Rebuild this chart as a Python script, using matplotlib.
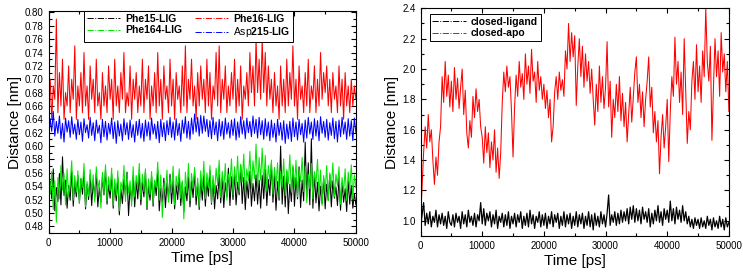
import numpy as np
import matplotlib
matplotlib.use("Agg")
import matplotlib.pyplot as plt
from matplotlib.lines import Line2D
from matplotlib.ticker import MultipleLocator

plt.rcParams['font.family'] = ['Liberation Sans', 'DejaVu Sans']
plt.rcParams['mathtext.fontset'] = 'custom'
plt.rcParams['mathtext.rm'] = 'Liberation Sans'
plt.rcParams['mathtext.bf'] = 'Liberation Sans:bold'

# time axis, one frame every 250 ps
time_ps = np.arange(0, 50001, 250)

# ---- left panel: residue-ligand distances [nm] ----
phe15_lig = [
    0.508, 0.547, 0.521, 0.566, 0.503, 0.538, 0.517, 0.559, 0.512, 0.584, 0.526, 0.549, 0.507, 0.541, 0.519, 0.563, 0.510, 0.545, 0.524, 0.556,
    0.515, 0.551, 0.528, 0.562, 0.506, 0.543, 0.520, 0.557, 0.511, 0.548, 0.523, 0.560, 0.509, 0.538, 0.516, 0.554, 0.527, 0.565, 0.513, 0.542,
    0.522, 0.558, 0.507, 0.544, 0.518, 0.553, 0.497, 0.536, 0.514, 0.550, 0.525, 0.561, 0.496, 0.539, 0.517, 0.556, 0.509, 0.547, 0.521, 0.559,
    0.512, 0.546, 0.524, 0.562, 0.505, 0.541, 0.519, 0.555, 0.510, 0.548, 0.526, 0.564, 0.503, 0.537, 0.516, 0.552, 0.508, 0.545, 0.522, 0.558,
    0.514, 0.549, 0.506, 0.542, 0.520, 0.557, 0.511, 0.546, 0.502, 0.539, 0.518, 0.554, 0.509, 0.548, 0.523, 0.561, 0.512, 0.544, 0.505, 0.551,
    0.519, 0.556, 0.510, 0.547, 0.525, 0.563, 0.513, 0.549, 0.506, 0.541, 0.521, 0.558, 0.515, 0.552, 0.508, 0.545, 0.524, 0.567, 0.511, 0.554,
    0.520, 0.559, 0.512, 0.546, 0.527, 0.571, 0.514, 0.553, 0.505, 0.548, 0.522, 0.562, 0.510, 0.544, 0.518, 0.557, 0.513, 0.549, 0.507, 0.556,
    0.521, 0.565, 0.511, 0.550, 0.526, 0.574, 0.516, 0.558, 0.504, 0.547, 0.519, 0.600, 0.513, 0.555, 0.509, 0.562, 0.499, 0.543, 0.517, 0.568,
    0.510, 0.553, 0.521, 0.569, 0.508, 0.549, 0.518, 0.606, 0.524, 0.575, 0.512, 0.611, 0.507, 0.558, 0.515, 0.546, 0.503, 0.540, 0.514, 0.552,
    0.506, 0.543, 0.519, 0.557, 0.509, 0.548, 0.522, 0.539, 0.511, 0.553, 0.504, 0.545, 0.516, 0.536, 0.502, 0.548, 0.513, 0.541, 0.507, 0.529,
    0.512]

phe16_lig = [
    0.66, 0.70, 0.64, 0.69, 0.67, 0.79, 0.65, 0.71, 0.66, 0.73, 0.64, 0.68, 0.66, 0.72, 0.65, 0.70, 0.67, 0.75, 0.64, 0.69,
    0.66, 0.71, 0.65, 0.74, 0.66, 0.69, 0.64, 0.72, 0.67, 0.70, 0.65, 0.73, 0.66, 0.68, 0.64, 0.71, 0.66, 0.69, 0.65, 0.72,
    0.67, 0.70, 0.64, 0.73, 0.66, 0.69, 0.65, 0.71, 0.67, 0.74, 0.65, 0.68, 0.66, 0.72, 0.64, 0.70, 0.67, 0.71, 0.65, 0.69,
    0.66, 0.73, 0.65, 0.70, 0.67, 0.72, 0.64, 0.69, 0.66, 0.71, 0.65, 0.74, 0.66, 0.70, 0.64, 0.72, 0.67, 0.69, 0.65, 0.73,
    0.66, 0.70, 0.64, 0.71, 0.67, 0.69, 0.65, 0.72, 0.66, 0.75, 0.65, 0.70, 0.67, 0.73, 0.66, 0.69, 0.64, 0.71, 0.66, 0.72,
    0.67, 0.70, 0.65, 0.73, 0.66, 0.71, 0.64, 0.69, 0.67, 0.74, 0.66, 0.75, 0.65, 0.70, 0.67, 0.72, 0.65, 0.69, 0.66, 0.71,
    0.67, 0.73, 0.65, 0.70, 0.66, 0.72, 0.64, 0.69, 0.67, 0.71, 0.66, 0.74, 0.68, 0.72, 0.66, 0.76, 0.68, 0.73, 0.67, 0.76,
    0.68, 0.74, 0.66, 0.72, 0.67, 0.70, 0.65, 0.71, 0.66, 0.69, 0.64, 0.72, 0.66, 0.70, 0.65, 0.73, 0.66, 0.71, 0.67, 0.75,
    0.66, 0.70, 0.64, 0.72, 0.67, 0.69, 0.65, 0.71, 0.66, 0.73, 0.65, 0.69, 0.67, 0.72, 0.65, 0.70, 0.66, 0.74, 0.67, 0.71,
    0.68, 0.72, 0.66, 0.70, 0.65, 0.71, 0.67, 0.69, 0.65, 0.72, 0.66, 0.70, 0.64, 0.71, 0.66, 0.69, 0.65, 0.70, 0.66, 0.69,
    0.67]

phe164_lig = [
    0.575, 0.528, 0.562, 0.505, 0.548, 0.486, 0.553, 0.521, 0.571, 0.534, 0.559, 0.512, 0.566, 0.527, 0.544, 0.578, 0.519, 0.556, 0.531, 0.563,
    0.514, 0.552, 0.538, 0.574, 0.509, 0.547, 0.525, 0.565, 0.531, 0.557, 0.516, 0.569, 0.536, 0.549, 0.507, 0.561, 0.529, 0.572, 0.518, 0.554,
    0.533, 0.567, 0.511, 0.551, 0.526, 0.563, 0.503, 0.546, 0.535, 0.571, 0.517, 0.558, 0.530, 0.548, 0.510, 0.569, 0.524, 0.556, 0.537, 0.574,
    0.520, 0.558, 0.532, 0.566, 0.508, 0.551, 0.527, 0.562, 0.514, 0.549, 0.538, 0.576, 0.519, 0.557, 0.493, 0.545, 0.528, 0.564, 0.516, 0.553,
    0.531, 0.570, 0.512, 0.555, 0.536, 0.566, 0.522, 0.548, 0.491, 0.561, 0.530, 0.574, 0.518, 0.559, 0.537, 0.568, 0.525, 0.552, 0.509, 0.563,
    0.534, 0.577, 0.521, 0.560, 0.538, 0.571, 0.515, 0.556, 0.529, 0.567, 0.541, 0.579, 0.523, 0.562, 0.535, 0.574, 0.519, 0.558, 0.544, 0.581,
    0.527, 0.569, 0.540, 0.585, 0.531, 0.573, 0.546, 0.588, 0.529, 0.566, 0.548, 0.592, 0.536, 0.578, 0.551, 0.603, 0.538, 0.583, 0.549, 0.597,
    0.541, 0.586, 0.533, 0.571, 0.547, 0.579, 0.528, 0.568, 0.542, 0.575, 0.523, 0.562, 0.539, 0.581, 0.526, 0.565, 0.544, 0.587, 0.531, 0.572,
    0.538, 0.579, 0.524, 0.565, 0.547, 0.583, 0.532, 0.570, 0.515, 0.558, 0.536, 0.574, 0.521, 0.562, 0.543, 0.580, 0.527, 0.564, 0.511, 0.556,
    0.532, 0.571, 0.518, 0.560, 0.537, 0.575, 0.524, 0.558, 0.540, 0.569, 0.513, 0.553, 0.530, 0.566, 0.519, 0.561, 0.535, 0.572, 0.521, 0.557,
    0.538]

asp215_lig = [
    0.608, 0.641, 0.622, 0.652, 0.615, 0.637, 0.619, 0.645, 0.611, 0.634, 0.606, 0.642, 0.621, 0.638, 0.613, 0.644, 0.618, 0.633, 0.610, 0.640,
    0.617, 0.636, 0.607, 0.641, 0.620, 0.632, 0.612, 0.643, 0.616, 0.635, 0.608, 0.639, 0.619, 0.631, 0.605, 0.640, 0.614, 0.637, 0.609, 0.634,
    0.618, 0.642, 0.611, 0.636, 0.604, 0.638, 0.615, 0.633, 0.608, 0.641, 0.617, 0.635, 0.610, 0.639, 0.613, 0.632, 0.606, 0.637, 0.616, 0.640,
    0.612, 0.634, 0.607, 0.639, 0.615, 0.636, 0.609, 0.642, 0.618, 0.633, 0.611, 0.637, 0.605, 0.640, 0.614, 0.635, 0.608, 0.638, 0.617, 0.643,
    0.613, 0.636, 0.609, 0.641, 0.616, 0.634, 0.607, 0.639, 0.619, 0.644, 0.612, 0.637, 0.610, 0.642, 0.618, 0.648, 0.621, 0.643, 0.615, 0.646,
    0.619, 0.645, 0.622, 0.640, 0.614, 0.638, 0.611, 0.643, 0.617, 0.636, 0.608, 0.640, 0.615, 0.637, 0.610, 0.642, 0.618, 0.635, 0.612, 0.639,
    0.616, 0.641, 0.609, 0.636, 0.613, 0.644, 0.618, 0.638, 0.611, 0.642, 0.620, 0.637, 0.614, 0.645, 0.619, 0.640, 0.612, 0.643, 0.617, 0.638,
    0.610, 0.641, 0.615, 0.636, 0.608, 0.639, 0.613, 0.634, 0.606, 0.640, 0.616, 0.635, 0.609, 0.638, 0.604, 0.633, 0.611, 0.637, 0.607, 0.642,
    0.614, 0.636, 0.609, 0.640, 0.617, 0.634, 0.606, 0.639, 0.612, 0.643, 0.618, 0.636, 0.610, 0.641, 0.615, 0.638, 0.608, 0.644, 0.619, 0.637,
    0.613, 0.640, 0.609, 0.635, 0.616, 0.642, 0.611, 0.637, 0.606, 0.639, 0.614, 0.643, 0.618, 0.636, 0.610, 0.641, 0.615, 0.638, 0.608, 0.642,
    0.620]

# ---- right panel: closed vs apo distance [nm] ----
closed_ligand = [
    0.95, 1.04, 1.12, 0.97, 1.05, 0.98, 1.06, 0.96, 1.03, 0.99, 1.07, 0.96, 1.04, 0.98, 1.05, 0.97, 1.03, 0.95, 1.06, 0.99,
    0.97, 1.04, 0.96, 1.05, 0.99, 1.03, 0.95, 1.06, 0.98, 1.04, 0.96, 1.07, 0.99, 1.03, 0.97, 1.05, 0.96, 1.04, 1.00, 1.12,
    0.98, 1.08, 0.97, 1.05, 1.00, 1.06, 0.96, 1.04, 0.98, 1.07, 0.95, 1.03, 0.99, 1.05, 0.96, 1.04, 0.97, 1.06, 0.95, 1.03,
    0.98, 1.05, 0.96, 1.04, 0.99, 1.06, 0.95, 1.03, 0.97, 1.05, 0.96, 1.07, 0.98, 1.04, 0.95, 1.03, 0.99, 1.06, 0.96, 1.04,
    0.97, 1.05, 0.95, 1.03, 0.98, 1.06, 0.96, 1.04, 0.99, 1.05, 0.95, 1.03, 0.97, 1.06, 0.96, 1.04, 0.98, 1.05, 0.95, 1.03,
    0.97, 1.06, 0.96, 1.04, 0.98, 1.05, 0.95, 1.03, 0.97, 1.06, 0.96, 1.04, 0.94, 1.05, 0.97, 1.03, 0.96, 1.06, 0.98, 1.04,
    0.96, 1.05, 1.17, 0.97, 1.04, 0.99, 1.06, 0.97, 1.05, 0.98, 1.07, 0.99, 1.06, 1.00, 1.08, 0.98, 1.09, 1.01, 1.10, 0.99,
    1.08, 1.00, 1.07, 0.98, 1.09, 1.01, 1.06, 0.99, 1.08, 0.96, 1.05, 0.98, 1.07, 1.00, 1.10, 0.99, 1.06, 0.97, 1.08, 1.01,
    1.07, 0.99, 1.13, 1.00, 1.08, 0.98, 1.09, 1.01, 1.07, 0.99, 1.10, 1.00, 1.06, 0.98, 1.03, 0.96, 1.01, 0.95, 1.02, 0.97,
    1.01, 0.95, 1.02, 0.96, 1.00, 0.95, 1.03, 0.97, 1.01, 0.94, 1.02, 0.96, 1.00, 0.95, 1.03, 0.96, 1.01, 0.94, 1.02, 0.96,
    0.99]

closed_apo = [
    1.00, 1.22, 1.45, 1.62, 1.48, 1.70, 1.52, 1.60, 1.40, 1.24, 1.42, 1.30, 1.52, 1.62, 1.95, 1.78, 2.05, 1.82, 1.96, 1.75,
    1.92, 1.72, 2.01, 1.80, 1.94, 1.74, 1.88, 2.00, 1.70, 1.86, 1.58, 1.48, 1.66, 1.55, 1.82, 1.68, 1.87, 1.72, 1.80, 1.62,
    1.55, 1.38, 1.62, 1.45, 1.58, 1.35, 1.52, 1.40, 1.60, 1.32, 1.48, 1.28, 1.45, 1.78, 1.98, 1.85, 2.02, 1.88, 1.95, 1.72,
    1.42, 1.75, 1.96, 1.82, 2.05, 1.88, 1.97, 1.80, 2.10, 1.90, 2.02, 1.84, 2.13, 1.92, 1.98, 1.78, 2.05, 1.86, 1.95, 1.80,
    1.90, 1.74, 1.86, 1.68, 1.80, 1.52, 1.62, 1.85, 1.95, 1.80, 1.98, 1.86, 1.93, 1.82, 2.12, 2.00, 2.30, 2.05, 2.24, 2.08,
    2.22, 1.76, 2.02, 2.20, 1.95, 2.15, 1.88, 2.10, 1.92, 2.05, 1.84, 2.00, 1.80, 1.63, 1.90, 1.72, 2.02, 1.78, 1.95, 1.74,
    1.88, 2.18, 1.75, 1.92, 1.55, 1.80, 1.68, 1.90, 1.72, 1.95, 1.66, 1.84, 1.62, 1.78, 1.52, 1.70, 1.88, 1.65, 1.82, 1.98,
    2.08, 1.78, 1.90, 1.68, 1.85, 1.62, 1.80, 1.92, 2.08, 1.75, 1.88, 1.58, 1.72, 1.52, 1.66, 1.31, 1.55, 1.70, 1.48, 1.62,
    1.80, 1.39, 1.72, 1.95, 1.82, 2.21, 1.90, 2.05, 1.78, 1.98, 1.70, 2.20, 1.85, 1.51, 1.72, 1.60, 1.92, 2.05, 1.80, 2.16,
    1.85, 2.02, 1.78, 2.12, 1.95, 2.40, 2.05, 1.92, 2.15, 1.53, 1.88, 2.20, 1.95, 2.12, 1.82, 2.24, 1.98, 2.10, 1.85, 2.05,
    1.72]

RED = '#ff0000'
GREEN = '#00e600'
BLUE = '#0000ff'

fig = plt.figure(figsize=(7.43, 2.77), dpi=100)
ax1 = fig.add_axes([0.0655, 0.159, 0.4135, 0.801])
ax2 = fig.add_axes([0.566, 0.148, 0.415, 0.822])

lw = 0.75
ax1.plot(time_ps, phe15_lig, color='black', lw=lw)
ax1.plot(time_ps, phe16_lig, color=RED, lw=lw)
ax1.plot(time_ps, phe164_lig, color=GREEN, lw=lw)
ax1.plot(time_ps, asp215_lig, color=BLUE, lw=lw)

ax2.plot(time_ps, closed_apo, color=RED, lw=lw)
ax2.plot(time_ps, closed_ligand, color='black', lw=0.9)

for ax in (ax1, ax2):
    ax.set_xlim(0, 50000)
    ax.xaxis.set_major_locator(MultipleLocator(10000))
    ax.xaxis.set_minor_locator(MultipleLocator(5000))
    ax.tick_params(which='both', direction='in', top=True, right=True, labelsize=7, width=0.8)
    ax.tick_params(which='major', length=3.5)
    ax.tick_params(which='minor', length=2)
    for s in ax.spines.values():
        s.set_linewidth(0.8)
    ax.set_xlabel('Time [ps]', fontsize=11, labelpad=2)
    ax.set_ylabel('Distance [nm]', fontsize=11, labelpad=2)

ax1.set_ylim(0.47, 0.802)
ax1.yaxis.set_major_locator(MultipleLocator(0.02))
ax1.yaxis.set_minor_locator(MultipleLocator(0.01))
ax1.yaxis.set_major_formatter(plt.FormatStrFormatter('%.2f'))

ax2.set_ylim(0.9, 2.4)
ax2.yaxis.set_major_locator(MultipleLocator(0.2))
ax2.yaxis.set_minor_locator(MultipleLocator(0.1))
ax2.yaxis.set_major_formatter(plt.FormatStrFormatter('%.1f'))

# legends drawn with dash-dot samples, as in the original
h15 = Line2D([], [], color='black', lw=0.7, ls='-.')
h16 = Line2D([], [], color=RED, lw=0.7, ls='-.')
h164 = Line2D([], [], color=GREEN, lw=0.7, ls='-.')
h215 = Line2D([], [], color=BLUE, lw=0.7, ls='-.')
leg1 = ax1.legend([h15, h164, h16, h215],
                  ['Phe15-LIG', 'Phe164-LIG', 'Phe16-LIG', r'Asp$\mathbf{215}$-$\mathbf{LIG}$'],
                  ncol=2, loc='upper left', bbox_to_anchor=(0.115, 1.0),
                  prop={'size': 7.5, 'weight': 'bold'}, fancybox=False, edgecolor='black',
                  framealpha=1, handlelength=3.2, handletextpad=0.5, columnspacing=1.2,
                  borderpad=0.25, labelspacing=0.15, borderaxespad=0.0)
leg1.get_frame().set_linewidth(0.7)
leg1.get_texts()[3].set_fontweight('normal')

hl = Line2D([], [], color='black', lw=0.7, ls='-.')
ha = Line2D([], [], color=RED, lw=0.7, ls='-.')
leg2 = ax2.legend([hl, ha], ['closed-ligand', 'closed-apo'], loc='upper left',
                  bbox_to_anchor=(0.03, 0.975), prop={'size': 7.5, 'weight': 'bold'},
                  fancybox=False, edgecolor='black', framealpha=1, handlelength=3.2,
                  handletextpad=0.5, borderpad=0.25, labelspacing=0.15, borderaxespad=0.0)
leg2.get_frame().set_linewidth(0.7)

fig.savefig('out.png', dpi=100)
